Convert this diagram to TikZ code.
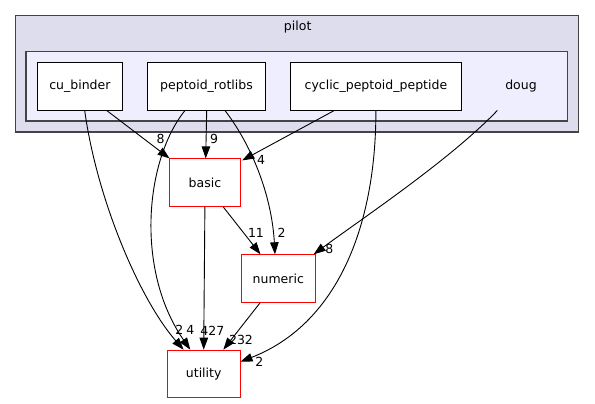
\documentclass[tikz,border=0pt]{standalone}
\usepackage{fontspec}
\setmainfont{DejaVu Sans}
\usetikzlibrary{arrows.meta}

\definecolor{pilotfill}{HTML}{DDDDEE}
\definecolor{dougfill}{HTML}{EEEEFF}
\definecolor{frame}{HTML}{444444}

\begin{document}
\begin{tikzpicture}[x = 1pt, y = -1pt,
  dirbox/.style = {draw, fill = white, line width = 0.9pt, minimum height = 47.7,
    inner sep = 0, font = \fontsize{12.5}{15}\selectfont},
  extbox/.style = {dirbox, draw = red},
  cluster/.style = {draw = frame, line width = 1.3pt},
  num/.style = {font = \fontsize{12.5}{15}\selectfont, inner sep = 0},
  dep/.style = {line width = 0.9pt, -{Triangle[length = 12pt, width = 8.5pt]}}]
  \useasboundingbox (0, 0) rectangle (595, 404);

  \draw[cluster, fill = pilotfill] (15.3, 15.7) rectangle (578.7, 132);
  \node[num] (pilot) at (297.7, 27.3) {pilot};
  \draw[cluster, fill = dougfill] (26, 51.7) rectangle (567.3, 121);

  \node[dirbox, minimum width = 85.7] (cubinder) at (79.9, 86.2) {cu\_binder};
  \node[dirbox, minimum width = 118.4] (peptoid) at (206.5, 86.2) {peptoid\_rotlibs};
  \node[dirbox, minimum width = 170.3] (cyclic) at (375.9, 86.2) {cyclic\_peptoid\_peptide};
  \node[dirbox, draw = none, fill = none, minimum width = 62] (doug) at (521, 86.2) {doug};

  \node[extbox, minimum width = 71.7] (basic) at (204.9, 182.7) {basic};
  \node[extbox, minimum width = 74.7] (numeric) at (278.3, 278.6) {numeric};
  \node[extbox, minimum width = 72.7] (utility) at (203.7, 374) {utility};

  \draw[dep] ([xshift = 26.8pt]cubinder.south) -- ([xshift = 1pt]basic.north west)
    node[num] (l1) at (160.7, 139.3) {8};
  \draw[dep] ([xshift = 4.8pt]cubinder.south) .. controls (97, 200) and (140, 300) ..
    ([xshift = 16.7pt]utility.north west) node[num] (l2) at (179.3, 330) {2};
  \draw[dep] ([xshift = 0.2pt]peptoid.south) -- ([xshift = 0.8pt]basic.north)
    node[num] (l3) at (214, 139) {9};
  \draw[dep] ([xshift = -21.5pt]peptoid.south) .. controls (145, 160) and (135, 270) ..
    ([xshift = 23.4pt]utility.north west) node[num] (l4) at (190.3, 330) {4};
  \draw[dep] ([xshift = 18.5pt]peptoid.south) .. controls (255, 150) and (272, 200) ..
    ([xshift = -3.3pt]numeric.north) node[num] (l5) at (281.7, 233.3) {2};
  \draw[dep] ([xshift = -41.6pt]cyclic.south) -- ([shift = {(1, 2)}]basic.north east)
    node[num] (l6) at (261, 160) {4};
  \draw[dep] (cyclic.south) .. controls (376, 230) and (335, 325) ..
    ([yshift = 12.3pt]utility.east) node[num] (l7) at (259.3, 361.7) {2};
  \draw[dep] ([xshift = -23.7pt]doug.south) .. controls (450, 160) and (360, 220) ..
    ([xshift = -2.4pt]numeric.north east) node[num] (l8) at (329.3, 249.3) {8};
  \draw[dep] ([xshift = 18.4pt]basic.south) -- ([xshift = 20pt]numeric.north west)
    node[num] (l9) at (256, 233.3) {11};
  \draw[dep] (basic.south) -- (utility.north)
    node[num] (l10) at (212.3, 331) {427};
  \draw[dep] ([xshift = -18.3pt]numeric.south) -- ([xshift = 19.6pt]utility.north)
    node[num] (l11) at (241, 340) {232};
\end{tikzpicture}
\end{document}
